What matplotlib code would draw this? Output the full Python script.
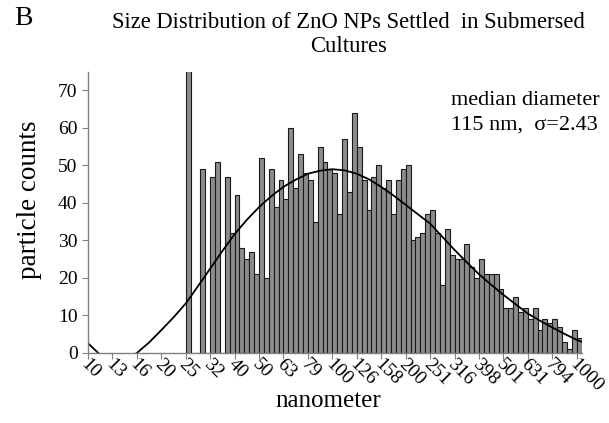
import matplotlib
matplotlib.use("Agg")
import matplotlib.pyplot as plt
import matplotlib.transforms as mtransforms

plt.rcParams['font.family'] = ['Liberation Serif', 'DejaVu Serif']

# tick labels of the category axis (nm)
tick_labels = ["10", "13", "16", "20", "25", "32", "40", "50", "63", "79", "100",
               "126", "158", "200", "251", "316", "398", "501", "631", "794", "1000"]

# particle counts per bin, first bin at 25 nm, 5 bins per tick step
counts = [95, 0, 0, 49, 0, 47, 51, 0, 47, 32,
          42, 28, 25, 27, 21, 52, 20, 49, 39, 46,
          41, 60, 44, 53, 48, 46, 35, 55, 51, 49,
          48, 37, 57, 43, 64, 55, 46, 38, 47, 50,
          44, 46, 37, 46, 49, 50, 30, 31, 32, 37,
          38, 32, 18, 33, 26, 25, 25, 29, 23, 20,
          25, 21, 21, 21, 17, 12, 12, 15, 11, 12,
          9, 12, 6, 9, 8, 9, 7, 3, 1, 6,
          4]

curve_pos = [0, 0.5, 1, 1.5, 2, 2.5, 3, 3.5, 4, 4.5, 5, 5.5, 6, 6.5, 7, 7.5,
             8, 8.5, 9, 9.5, 10, 10.5, 11, 11.5, 12, 12.5, 13, 13.5, 14, 14.5,
             15, 15.5, 16, 16.5, 17, 17.5, 18, 18.5, 19, 19.5, 20, 20.2]
curve_val = [2.6, -0.5, -2.5, -2.0, 0.0, 2.8, 6.1, 9.5, 13.2, 17.8, 22.5, 27.2,
             31.7, 35.5, 38.9, 41.8, 44.3, 46.2, 47.8, 48.6, 49.0, 48.7, 47.8,
             46.3, 44.3, 42.0, 39.5, 37.0, 34.5, 31.0, 27.5, 24.2, 21.0, 18.2,
             15.5, 13.0, 10.5, 8.6, 6.8, 5.1, 3.5, 3.0]

fig = plt.figure(figsize=(6.09, 4.23), dpi=100)
ax = fig.add_axes([0.1445, 0.1655, 0.8105, 0.665])

first = tick_labels.index("25")
bin_left = [first + k / 5 for k in range(len(counts))]
ax.bar(bin_left, counts, width=0.2, align='edge', color='#8c8c8c',
       edgecolor='#1a1a1a', linewidth=0.8)
ax.plot(curve_pos, curve_val, color='black', linewidth=1.3)

ax.set_xlim(0, 20.2)
ax.set_ylim(0, 75)
ax.set_yticks(range(0, 71, 10))
ax.set_xticks(range(len(tick_labels)))
ax.set_xticklabels(tick_labels, rotation=-45, ha='left', va='center',
                   rotation_mode='anchor')

for side in ['top', 'right']:
    ax.spines[side].set_visible(False)
for side in ['left', 'bottom']:
    ax.spines[side].set_color('#808080')
    ax.spines[side].set_linewidth(1.0)
ax.tick_params(axis='both', colors='#808080', labelcolor='black',
               labelsize=14, length=4)
ax.tick_params(axis='x', pad=2, labelsize=14)
shift = mtransforms.ScaledTranslation(-3 / 72, 0, fig.dpi_scale_trans)
for lab in ax.get_xticklabels():
    lab.set_transform(lab.get_transform() + shift)

ax.set_ylabel("particle counts", fontsize=19.5, va='center')
ax.yaxis.set_label_coords(-0.118, 0.545)
ax.set_xlabel("nanometer", fontsize=18, va='center')
ax.xaxis.set_label_coords(0.486, -0.17)

fig.text(0.572, 0.972, "Size Distribution of ZnO NPs Settled  in Submersed\nCultures",
         ha='center', va='top', fontsize=16.3, linespacing=1.2)
fig.text(0.024, 0.985, "B", ha='left', va='top', fontsize=20)
ax.text(0.885, 0.854, "median diameter\n115 nm,  σ=2.43", transform=ax.transAxes,
        ha='center', va='center', fontsize=16, linespacing=1.4)

fig.savefig("out.png", dpi=100)
